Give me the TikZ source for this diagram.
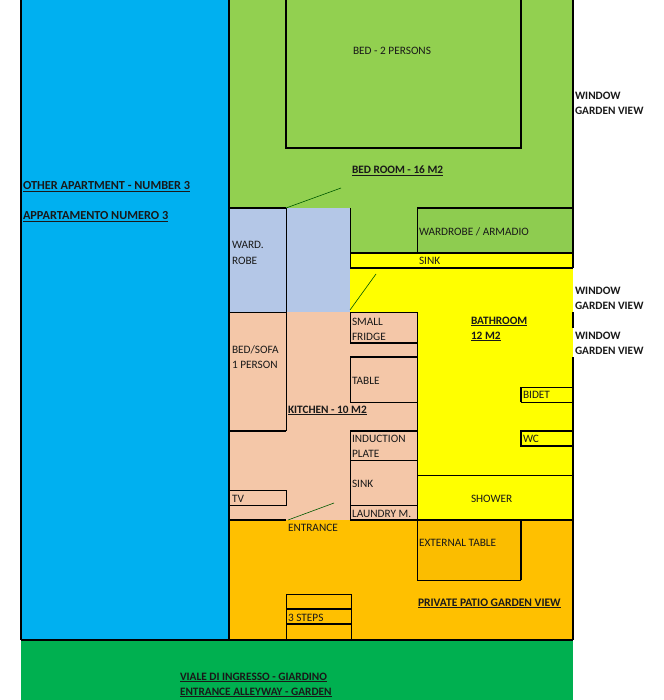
\documentclass[tikz,border=0pt]{standalone}
\usepackage{fontspec}
\setmainfont{Carlito}
\definecolor{blueapt}{HTML}{00B0F0}
\definecolor{greenbed}{HTML}{92D050}
\definecolor{greenwd}{HTML}{8ECC50}
\definecolor{wardblue}{HTML}{B4C7E7}
\definecolor{peach}{HTML}{F4C7A8}
\definecolor{yellowb}{HTML}{FFFF00}
\definecolor{orangep}{HTML}{FFC000}
\definecolor{orangetab}{HTML}{FBBD00}
\definecolor{greeng}{HTML}{00B050}
\tikzset{
  x=1pt,y=-1pt,
  lab/.style={anchor=base west,inner sep=0pt,outer sep=0pt,align=left,text=black!90,
    font=\fontsize{11.3}{15}\selectfont},
  big lab/.style={lab,font=\fontsize{12.3}{15}\selectfont},
  wide lab/.style={lab,font=\fontsize{11.55}{15}\selectfont},
  wall/.style={draw=black,line width=1.5pt},
  thin wall/.style={draw=black,line width=1pt},
  heavy wall/.style={draw=black,line width=2pt},
  door/.style={draw=black!65!green,line width=0.6pt},
}
\newcommand{\ul}[1]{\underline{\smash{#1}}}
\begin{document}
\begin{tikzpicture}
\useasboundingbox (0,0) rectangle (663,700);
% fills
\fill[blueapt] (21,0) rectangle (229,640);
\fill[greenbed] (229,0) rectangle (573,208);
\fill[greenbed] (350,208) rectangle (417,253);
\fill[greenwd] (417,208) rectangle (573,253);
\fill[greenbed] (286,0) rectangle (521,148);
\fill[wardblue] (229,208) rectangle (350,312);
\fill[yellowb] (350,253) rectangle (573,520);
\fill[peach] (229,312) rectangle (417,520);
\fill[orangep] (229,520) rectangle (573,640);
\fill[orangetab] (417,520) rectangle (521,580);
\fill[greeng] (21,640) rectangle (573,700);
% outer walls
\draw[wall] (21,0) -- (21,640);
\draw[wall] (229,0) -- (229,640);
\draw[wall] (21,640) -- (573,640);
\draw[wall] (573,0) -- (573,268);
\draw[wall] (573,312) -- (573,328);
\draw[wall] (573,357) -- (573,640);
% bed
\draw[wall] (286,0) -- (286,148) -- (521,148) -- (521,0);
% bedroom / wardrobes
\draw[wall] (229,208) -- (286,208);
\draw[thin wall] (286,208) -- (286,431);
\draw[thin wall] (350,208) -- (350,253);
\draw[wall] (417,208) -- (573,208);
\draw[thin wall] (417,208) -- (417,253);
\draw[wall] (350,253) -- (573,253);
\draw[wall] (350,268) -- (573,268);
\draw[thin wall] (350,253) -- (350,268);
% kitchen
\draw[thin wall] (229,312) -- (286,312);
\draw[thin wall] (350,312) -- (417,312);
\draw[thin wall] (350,312) -- (350,343);
\draw[heavy wall] (350,343) -- (417,343);
\draw[wall] (350,357) -- (417,357);
\draw[thin wall] (350,357) -- (350,402);
\draw[thin wall] (350,402) -- (417,402);
\draw[thin wall] (417,312) -- (417,520);
\draw[wall] (229,431) -- (286,431);
\draw[wall] (350,431) -- (417,431);
\draw[thin wall] (350,431) -- (350,520);
\draw[thin wall] (350,460) -- (417,460);
\draw[thin wall] (350,505) -- (417,505);
\draw[thin wall] (229,490) -- (286,490) -- (286,505) -- (229,505);
\draw[wall] (229,520) -- (286,520);
\draw[wall] (350,520) -- (573,520);
% bathroom fixtures
\draw[thin wall] (417,475) -- (573,475);
\draw[thin wall] (573,387) -- (521,387);
\draw[wall] (521,387) -- (521,402);
\draw[thin wall] (521,402) -- (573,402);
\draw[heavy wall] (573,431) -- (521,431) -- (521,446) -- (573,446);
% patio
\draw[thin wall] (417,520) -- (417,580) -- (521,580);
\draw[wall] (521,520) -- (521,580);
% steps
\draw[thin wall] (286,594) -- (286,640);
\draw[thin wall] (351,594) -- (351,640);
\draw[thin wall] (286,594) -- (351,594);
\draw[wall] (286,609) -- (351,609);
\draw[wall] (286,624) -- (351,624);
% door swings
\draw[door] (286,208) -- (341,188);
\draw[door] (350,310) -- (376,274);
\draw[door] (288,520) -- (334,503);
% labels
\node[big lab] (apt1) at (23,190) {\ul{\textbf{OTHER APARTMENT - NUMBER 3}}};
\node[big lab] (apt2) at (23,220) {\ul{\textbf{APPARTAMENTO NUMERO 3}}};
\node[lab] (bed) at (353,55) {BED - 2 PERSONS};
\node[lab] (bedroom) at (352,174) {\ul{\textbf{BED ROOM - 16 M2}}};
\node[lab] (w1) at (575,115) {\textbf{WINDOW}\\\textbf{GARDEN VIEW}};
\node[lab] (w2) at (575,309) {\textbf{WINDOW}\\\textbf{GARDEN VIEW}};
\node[lab] (w3) at (575,354) {\textbf{WINDOW}\\\textbf{GARDEN VIEW}};
\node[lab] (ward) at (232,264) {WARD.\\ROBE};
\node[lab] (armadio) at (419,236) {WARDROBE / ARMADIO};
\node[lab] (sink1) at (419,264) {SINK};
\node[lab] (bath) at (471,339) {\ul{\textbf{BATHROOM}}\\\ul{\textbf{12 M2}}};
\node[lab] (fridge) at (352,340) {SMALL\\FRIDGE};
\node[lab] (sofa) at (232,368) {BED/SOFA\\1 PERSON};
\node[lab] (table) at (352,384) {TABLE};
\node[lab] (bidet) at (523,398) {BIDET};
\node[lab] (kitchen) at (288,413) {\ul{\textbf{KITCHEN - 10 M2}}};
\node[lab] (induction) at (352,457) {INDUCTION\\PLATE};
\node[lab] (wc) at (523,442) {WC};
\node[lab] (sink2) at (352,487) {SINK};
\node[lab] (shower) at (471,502) {SHOWER};
\node[lab] (tv) at (232,502) {TV};
\node[lab] (laundry) at (352,517) {LAUNDRY M.};
\node[lab] (entrance) at (288,531) {ENTRANCE};
\node[lab] (exttable) at (419,546) {EXTERNAL TABLE};
\node[wide lab] (patio) at (418,606) {\ul{\textbf{PRIVATE PATIO GARDEN VIEW}}};
\node[lab] (steps) at (288,621) {3 STEPS};
\node[lab] (viale) at (180,695) {\ul{\textbf{VIALE DI INGRESSO - GIARDINO}}\\\ul{\textbf{ENTRANCE ALLEYWAY - GARDEN}}};
\end{tikzpicture}
\end{document}
